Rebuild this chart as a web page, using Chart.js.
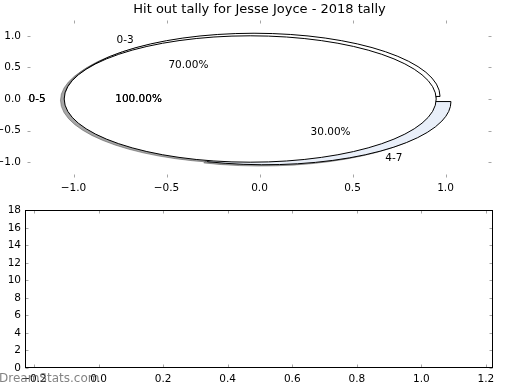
<!DOCTYPE html>
<html>
<head>
<meta charset="utf-8">
<script src="https://cdn.jsdelivr.net/npm/chart.js@4.4.1/dist/chart.umd.min.js"></script>
<style>
  body { margin: 0; background: #fff; }
  #wrap { position: relative; width: 520px; height: 390px; overflow: hidden; font-family: "DejaVu Sans"; }
  #pieChart { position: absolute; left: 0; top: 0; }
  #countChart { position: absolute; left: 0; top: 200px; }
  #mark { position: absolute; left: -1px; top: 371px; font-size: 12px; line-height: 14px; color: rgba(90,90,90,0.75); }
</style>
</head>
<body>
<div id="wrap">
  <canvas id="pieChart" width="520" height="200"></canvas>
  <canvas id="countChart" width="520" height="190"></canvas>
  <div id="mark">DreamStats.com</div>
</div>
<script>
// ================= DATA =================
const chartTitle = "Hit out tally for Jesse Joyce - 2018 tally";
const rangeLabels = ["0-3", "4-7"];
const rangeShares = [70, 30];
const totalLabels = ["0-5"];
const totalShares = [100];
const pieTicks = [-1.0, -0.5, 0.0, 0.5, 1.0];
const countTicks = [0, 2, 4, 6, 8, 10, 12, 14, 16, 18];
const indexTicks = [-0.2, 0.0, 0.2, 0.4, 0.6, 0.8, 1.0, 1.2];

// ================= STYLE =================
Chart.defaults.font.family = "DejaVu Sans";
Chart.defaults.font.size = 10.5;
Chart.defaults.color = "#000";

const pies = [
  { labels: rangeLabels, values: rangeShares, colors: ["#ffffff", "#e9eff9"], explode: 0.05, reps: 1 },
  { labels: totalLabels, values: totalShares, colors: ["#ffffff"], explode: 0.05, reps: 2 }
];

const minus = v => (v < 0 ? "\u2212" : "") + Math.abs(v).toFixed(1);

// ================= PIE HELPERS =================
function wedges(pie) {
  const total = pie.values.reduce((a, b) => a + b, 0);
  let start = 0;
  return pie.values.map((v, i) => {
    const sweep = v / total * 2 * Math.PI;
    const mid = start + sweep / 2;
    const w = {
      from: start, to: start + sweep, mid,
      cx: pie.explode * Math.cos(mid), cy: pie.explode * Math.sin(mid),
      share: v / total * 100, label: pie.labels[i], color: pie.colors[i], reps: pie.reps
    };
    start += sweep;
    return w;
  });
}

function wedgePath(ctx, xs, ys, w, ox, oy) {
  const px = xs.getPixelForValue(w.cx + ox);
  const py = ys.getPixelForValue(w.cy + oy);
  const rx = xs.getPixelForValue(w.cx + ox + 1) - px;
  const ry = py - ys.getPixelForValue(w.cy + oy + 1);
  ctx.beginPath();
  if (w.to - w.from >= 2 * Math.PI - 1e-9) {
    ctx.ellipse(px, py, rx, ry, 0, 0, 2 * Math.PI);
  } else {
    ctx.moveTo(px, py);
    ctx.ellipse(px, py, rx, ry, 0, -w.from, -w.to, true);
    ctx.closePath();
  }
}

const piePlugin = {
  id: "pies",
  afterDatasetsDraw(chart) {
    const { ctx, scales: { x, y } } = chart;
    const flat = pies.map(wedges).flat();
    ctx.save();
    ctx.lineWidth = 1;
    // shadows sit under every wedge
    flat.forEach(w => {
      wedgePath(ctx, x, y, w, -0.02, -0.02);
      ctx.fillStyle = ctx.strokeStyle = "rgba(77,77,77,0.5)";
      ctx.fill();
      ctx.stroke();
    });
    flat.forEach(w => {
      wedgePath(ctx, x, y, w, 0, 0);
      ctx.fillStyle = w.color;
      ctx.strokeStyle = "#000";
      ctx.fill();
      ctx.stroke();
    });
    ctx.font = "10.5px 'DejaVu Sans'";
    ctx.fillStyle = "#000";
    ctx.textBaseline = "middle";
    flat.forEach(w => {
      for (let k = 0; k < w.reps; k++) {
        const lx = w.cx + 1.1 * Math.cos(w.mid);
        const ly = w.cy + 1.1 * Math.sin(w.mid);
        ctx.textAlign = lx < 0 ? "right" : "left";
        ctx.fillText(w.label, x.getPixelForValue(lx), y.getPixelForValue(ly));
        ctx.textAlign = "center";
        ctx.fillText(w.share.toFixed(2) + "%",
          x.getPixelForValue(w.cx + 0.6 * Math.cos(w.mid)),
          y.getPixelForValue(w.cy + 0.6 * Math.sin(w.mid)));
      }
    });
    ctx.restore();
  }
};

// ================= TICKS / FRAME =================
const insideTicks = {
  id: "insideTicks",
  afterDraw(chart, args, opts) {
    const { ctx, chartArea: a, scales: { x, y } } = chart;
    const L = Math.round(a.left) + 0.5, R = Math.round(a.right) - 0.5;
    const T = Math.round(a.top) + 0.5, B = Math.round(a.bottom) - 0.5;
    ctx.save();
    ctx.lineWidth = 1;
    ctx.strokeStyle = "rgba(0,0,0,0.35)";
    ctx.beginPath();
    x.ticks.forEach(t => {
      const px = Math.round(x.getPixelForValue(t.value)) + 0.5;
      ctx.moveTo(px, T); ctx.lineTo(px, T + 3);
      ctx.moveTo(px, B); ctx.lineTo(px, B - 3);
    });
    y.ticks.forEach(t => {
      const py = Math.round(y.getPixelForValue(t.value)) + 0.5;
      ctx.moveTo(L, py); ctx.lineTo(L + 3, py);
      ctx.moveTo(R, py); ctx.lineTo(R - 3, py);
    });
    ctx.stroke();
    if (opts.frame) {
      ctx.strokeStyle = "#000";
      ctx.strokeRect(L, T, R - L, B - T);
    }
    ctx.restore();
  }
};

function axis(ticks, min, max, fmt, fit, pad) {
  return {
    min, max,
    afterBuildTicks: s => { s.ticks = ticks.map(v => ({ value: v })); },
    afterFit: fit,
    grid: { display: false, drawTicks: false },
    border: { display: false },
    ticks: { callback: fmt, padding: pad, autoSkip: false, maxRotation: 0, color: "#000" }
  };
}

// ================= PIE PANEL =================
new Chart(document.getElementById("pieChart"), {
  type: "scatter",
  data: { datasets: [] },
  options: {
    responsive: false,
    animation: false,
    layout: { padding: { left: 0, right: 28, top: 0, bottom: 0 } },
    plugins: {
      legend: { display: false },
      tooltip: { enabled: false },
      title: {
        display: true, text: chartTitle, color: "#000", fullSize: false,
        font: { family: "DejaVu Sans", size: 13, weight: "normal", lineHeight: 1.2 },
        padding: { top: 2, bottom: 2.4 }
      },
      insideTicks: { frame: false }
    },
    scales: {
      x: axis(pieTicks, -1.25, 1.25, v => minus(v), s => { s.height = 22; }, 4),
      y: axis(pieTicks, -1.25, 1.25, v => minus(v), s => { s.width = 27; }, 6)
    }
  },
  plugins: [piePlugin, insideTicks]
});

// ================= COUNT PANEL =================
new Chart(document.getElementById("countChart"), {
  type: "scatter",
  data: { datasets: [] },
  options: {
    responsive: false,
    animation: false,
    layout: { padding: { left: 0, right: 27, top: 10, bottom: 0 } },
    plugins: {
      legend: { display: false },
      tooltip: { enabled: false },
      insideTicks: { frame: true }
    },
    scales: {
      x: axis(indexTicks, -0.228, 1.222, v => minus(v), s => { s.height = 22; }, 5),
      y: axis(countTicks, 0, 18, v => String(v), s => { s.width = 25; }, 4)
    }
  },
  plugins: [insideTicks]
});
</script>
</body>
</html>
